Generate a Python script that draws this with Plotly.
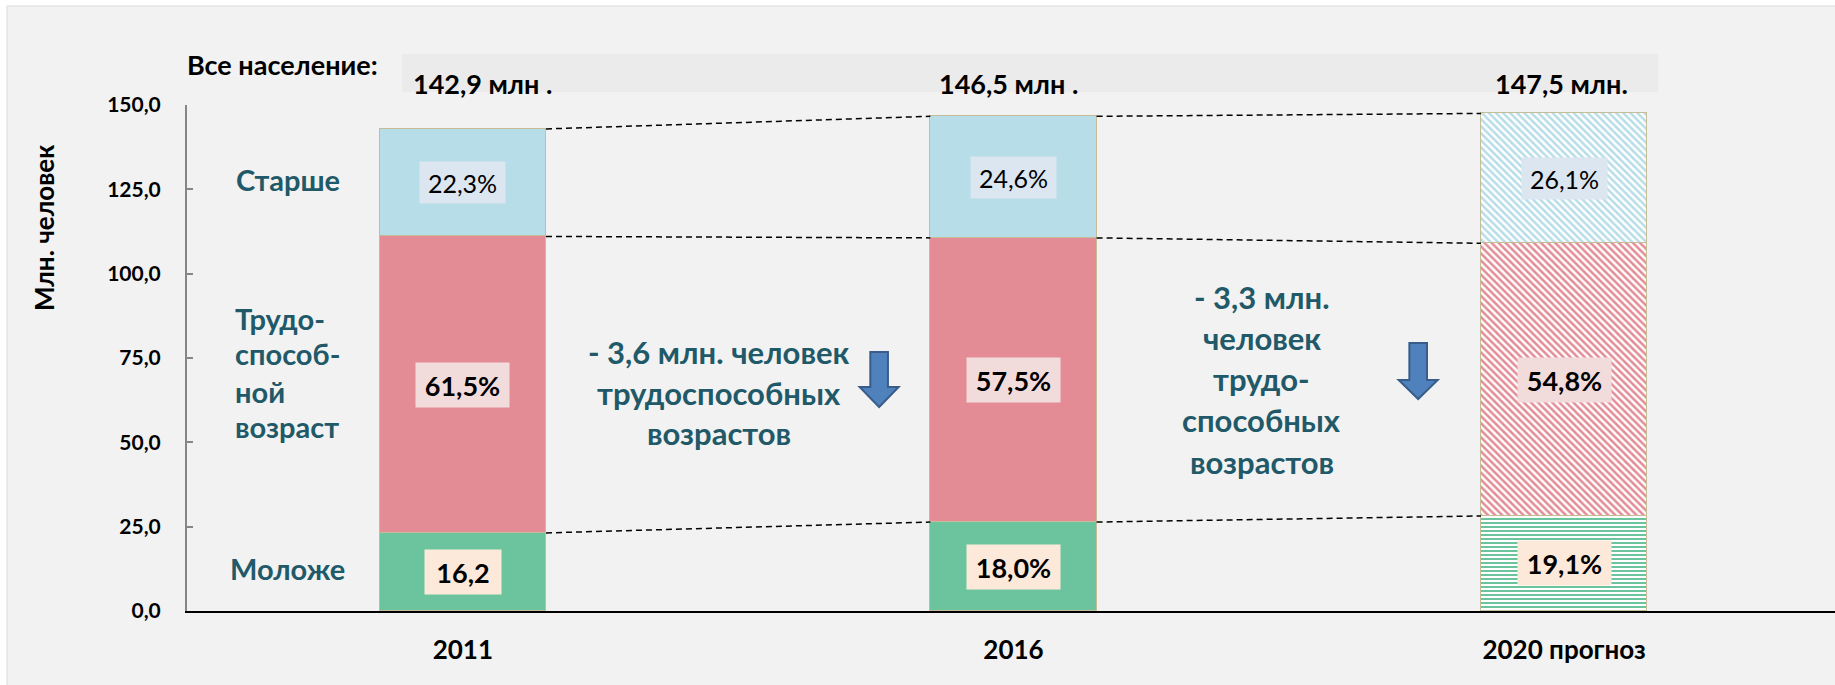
import plotly.graph_objects as go

# ---------------- data ----------------
years = ["2011", "2016", "2020 прогноз"]
totals = [142.9, 146.5, 147.5]
total_labels = ["142,9 млн .", "146,5 млн .", "147,5 млн."]
pct_younger = [16.2, 18.0, 19.1]
pct_working = [61.5, 57.5, 54.8]
pct_older = [22.3, 24.6, 26.1]
labels_younger = ["16,2", "18,0%", "19,1%"]
labels_working = ["61,5%", "57,5%", "54,8%"]
labels_older = ["22,3%", "24,6%", "26,1%"]
group_names = ["Моложе", "Трудоспособный возраст", "Старше"]
y_tick_vals = [0, 25, 50, 75, 100, 125, 150]
y_tick_text = ["0,0", "25,0", "50,0", "75,0", "100,0", "125,0", "150,0"]
change_1 = ["- 3,6 млн. человек", "трудоспособных", "возрастов"]
change_2 = ["- 3,3 млн.", "человек", "трудо-", "способных", "возрастов"]
left_working = ["Трудо-", "способ-", "ной", "возраст"]

# ---------------- styles ----------------
FONT = "Lato, 'Open Sans', sans-serif"
TEAL = "#215968"
colors = ["#6cc49f", "#e38c96", "#b7dde8"]
label_bg = ["#fde9d9", "#f2dcdb", "#dce6f1"]
label_bold = [True, True, False]
patterns = [["", "", "-"], ["", "", "\\"], ["", "", "\\"]]
pattern_size = [4, 5, 5]
BAR_W = 0.302

# pixel geometry helpers (plot area: x 187..1835, y 105..611)
L, T, PW, PH = 187, 105, 1648, 506


def px_x(p):
    return (p - L) / PW


def px_y(p):
    return (T + PH - p) / PH


def dy(p):  # pixel row -> data value
    return (T + PH - p) / PH * 150


x = list(range(len(years)))
younger = [t * p / 100 for t, p in zip(totals, pct_younger)]
working = [t * p / 100 for t, p in zip(totals, pct_working)]
older = [t * p / 100 for t, p in zip(totals, pct_older)]
series = [younger, working, older]
labels = [labels_younger, labels_working, labels_older]

fig = go.Figure()

for k, vals in enumerate(series):
    fig.add_trace(go.Bar(
        x=x, y=vals, width=BAR_W, name=group_names[k],
        marker=dict(
            color=colors[k],
            line=dict(color="#c4bd97", width=1.5),
            pattern=dict(shape=patterns[k], fgcolor=colors[k], bgcolor="#ffffff",
                         size=pattern_size[k], solidity=0.5, fillmode="replace"),
        ),
        showlegend=False, hoverinfo="skip",
    ))

levels = []
base = [0.0] * len(x)
annotations = []
for k, vals in enumerate(series):
    for i in x:
        txt = labels[k][i]
        bold = label_bold[k]
        annotations.append(dict(
            x=i, y=base[i] + vals[i] / 2, xref="x", yref="y",
            text=("<b>%s</b>" % txt) if bold else txt,
            showarrow=False, bgcolor=label_bg[k],
            font=dict(family=FONT, size=27 if bold else 25, color="#000000"),
            width=(17 * len(txt) + 6) if bold else (16 * len(txt) + 3),
            height=42 if bold else 39,
        ))
    base = [b + v for b, v in zip(base, vals)]
    levels.append(list(base))

# dashed connectors
for lev in levels:
    for i in range(len(x) - 1):
        fig.add_trace(go.Scatter(
            x=[x[i] + BAR_W / 2, x[i + 1] - BAR_W / 2], y=[lev[i], lev[i + 1]],
            mode="lines", line=dict(color="#000000", width=1.5, dash="6px,4px"),
            showlegend=False, hoverinfo="skip",
        ))

# totals above bars
total_shift = [20, -5, -3]
for i in x:
    annotations.append(dict(
        x=i, y=px_y(83), xref="x", yref="paper", xshift=total_shift[i],
        xanchor="center", yanchor="middle",
        text="<b>%s</b>" % total_labels[i], showarrow=False,
        font=dict(family=FONT, size=27, color="#000000"),
    ))

annotations.append(dict(
    x=px_x(185), y=px_y(64), xref="paper", yref="paper", xanchor="left", yanchor="middle",
    text="<b>Все население:</b>", showarrow=False,
    font=dict(family=FONT, size=27, color="#000000"),
))

# y-axis title
annotations.append(dict(
    x=px_x(44), y=px_y(228), xref="paper", yref="paper", showarrow=False,
    xanchor="center", yanchor="middle",
    text="<b>Млн. человек</b>", textangle=-90,
    font=dict(family=FONT, size=26, color="#000000"),
))

# group labels on the left
annotations.append(dict(x=-0.318, y=dy(179), xref="x", yref="y", showarrow=False,
                        yanchor="middle",
                        text="<b>Старше</b>", font=dict(family=FONT, size=29, color=TEAL)))
annotations.append(dict(x=-0.318, y=dy(568), xref="x", yref="y", showarrow=False,
                        yanchor="middle",
                        text="<b>Моложе</b>", font=dict(family=FONT, size=29, color=TEAL)))
for line, py in zip(left_working, [318, 353, 391, 426]):
    annotations.append(dict(x=-0.418, y=dy(py), xref="x", yref="y", xanchor="left",
                            yanchor="middle", showarrow=False, text="<b>%s</b>" % line,
                            font=dict(family=FONT, size=29, color=TEAL)))

# change notes
for line, py in zip(change_1, [352, 393, 433]):
    annotations.append(dict(x=0.465, y=dy(py), xref="x", yref="y", showarrow=False,
                            yanchor="middle", text="<b>%s</b>" % line,
                            font=dict(family=FONT, size=31, color=TEAL)))
for line, py in zip(change_2, [297, 338, 379, 420, 462]):
    annotations.append(dict(x=1.451, y=dy(py), xref="x", yref="y", showarrow=False,
                            yanchor="middle", text="<b>%s</b>" % line,
                            font=dict(family=FONT, size=31, color=TEAL)))

shapes = []
# background frame
shapes.append(dict(type="rect", xref="paper", yref="paper",
                   x0=px_x(7), x1=1.05, y0=-0.3, y1=px_y(6),
                   fillcolor="#f2f2f2", line=dict(color="#d9d9d9", width=1), layer="below"))
# band behind totals
shapes.append(dict(type="rect", xref="paper", yref="paper",
                   x0=px_x(402), x1=px_x(1658), y0=px_y(92), y1=px_y(54),
                   fillcolor="#ebebeb", line=dict(width=0), layer="below"))


def arrow_path(cx, top, neck, bottom, sh, hh):
    return ("M {a},{t} L {b},{t} L {b},{n} L {c},{n} L {cx},{bo} L {d},{n} L {a},{n} Z"
            .format(a=cx - sh, b=cx + sh, t=top, n=neck, c=cx + hh, cx=cx, bo=bottom,
                    d=cx - hh))


for cx, top, neck, bottom in [(0.756, dy(352), dy(387), dy(407)),
                              (1.735, dy(343), dy(380), dy(399))]:
    shapes.append(dict(type="path", xref="x", yref="y",
                       path=arrow_path(cx, top, neck, bottom, 0.016, 0.0354),
                       fillcolor="#4f81bd", line=dict(color="#385d8a", width=2)))

fig.update_layout(
    width=1835, height=685,
    margin=dict(l=L, r=0, t=T, b=685 - T - PH),
    paper_bgcolor="#ffffff", plot_bgcolor="rgba(0,0,0,0)",
    barmode="stack", bargap=0,
    annotations=annotations, shapes=shapes,
    font=dict(family=FONT),
    xaxis=dict(range=[-0.501, 2.492], tickvals=x, ticktext=["<b>%s</b>" % y for y in years],
               tickfont=dict(family=FONT, size=26, color="#000000"),
               showline=True, linecolor="#000000", linewidth=2, showgrid=False,
               zeroline=False, ticks="", ticklabelstandoff=15, fixedrange=True),
    yaxis=dict(range=[0, 150], tickvals=y_tick_vals,
               ticktext=["<b>%s</b>" % t for t in y_tick_text],
               tickfont=dict(family=FONT, size=21, color="#000000"),
               showline=True, linecolor="#868686", linewidth=2, showgrid=False,
               zeroline=False, ticks="inside", ticklen=6, tickcolor="#868686",
               tickwidth=1.5, ticklabelstandoff=20, fixedrange=True),
)

fig.write_html("out.html", config={"displayModeBar": False},
               post_script="document.body.style.margin='0';document.body.style.overflow='hidden';")
